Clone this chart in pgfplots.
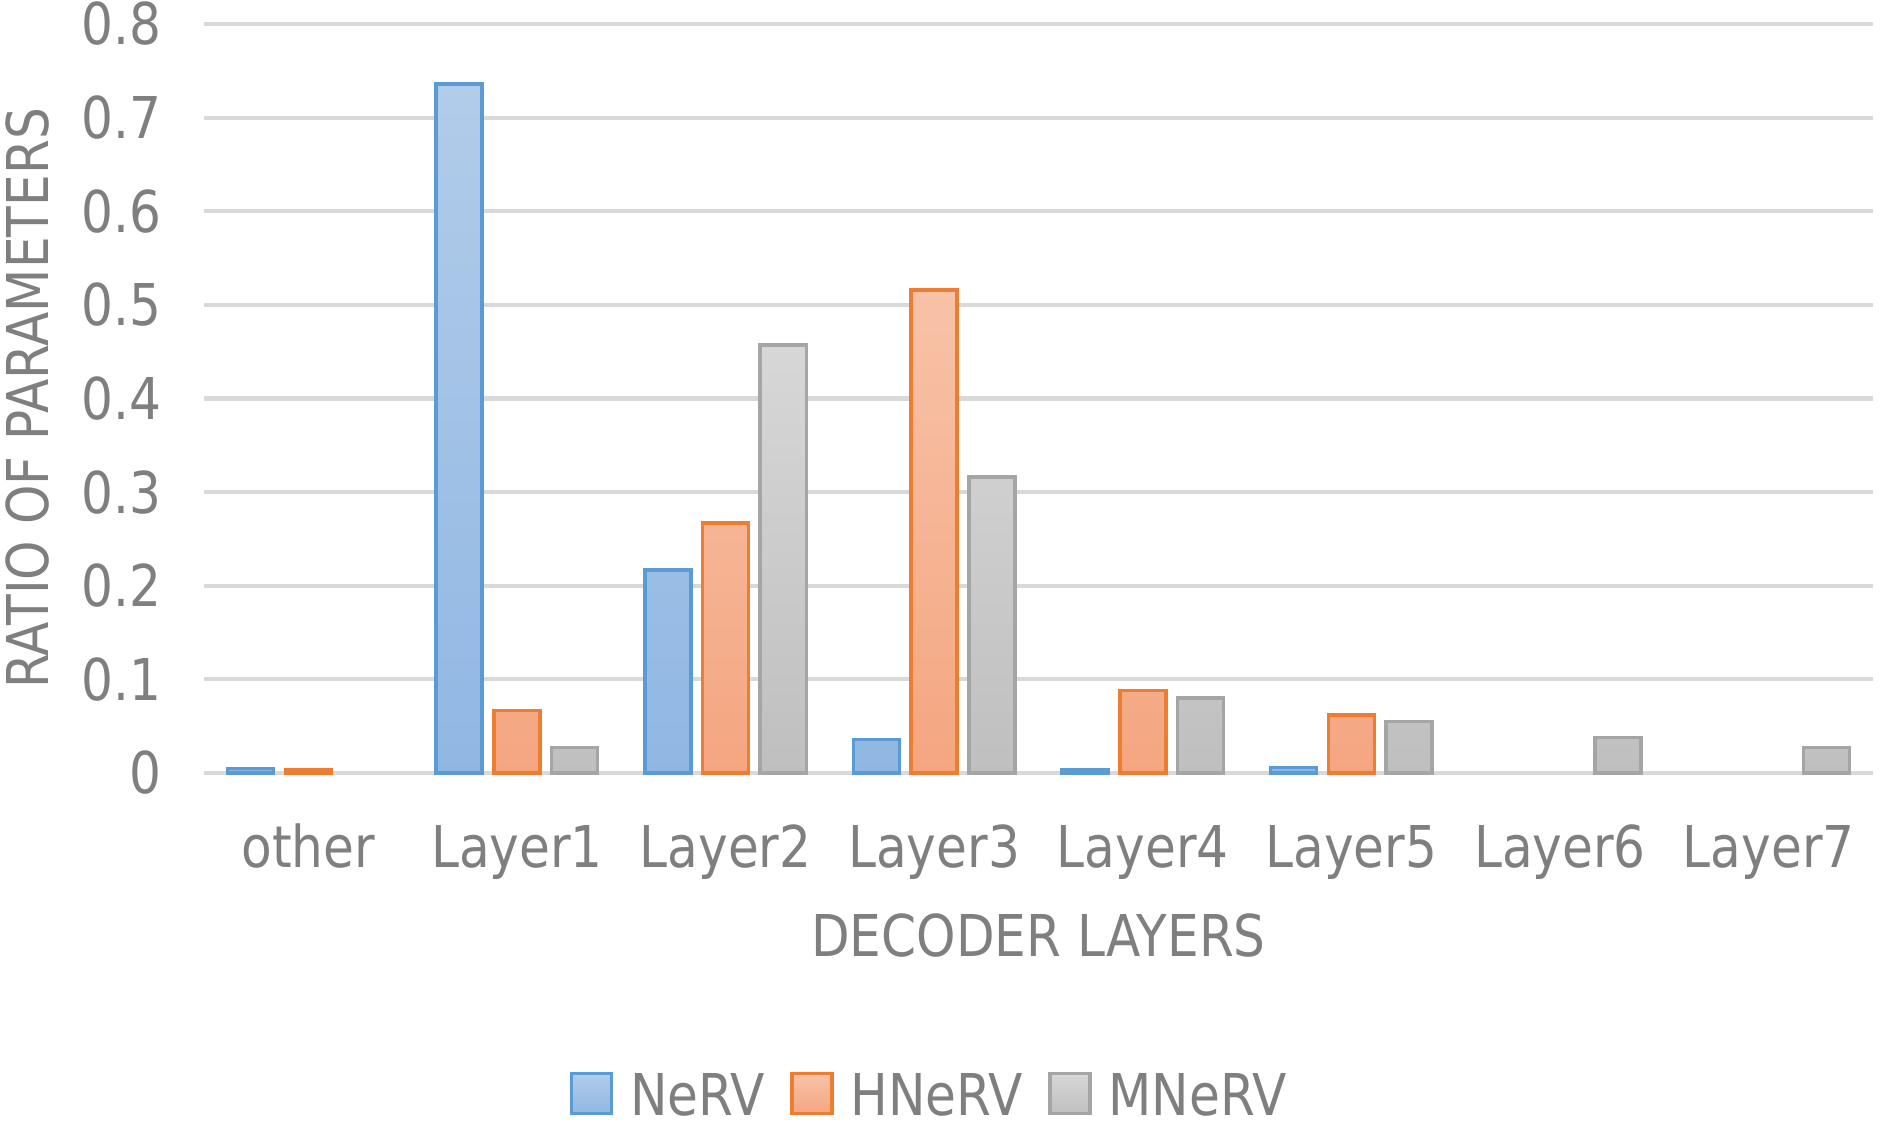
\documentclass[border=0pt]{standalone}
\usepackage{fontspec}
\setmainfont{DejaVu Sans}[FakeStretch=0.87]
\usepackage{pgfplots}
\pgfplotsset{compat=1.18}

\definecolor{txt}{HTML}{7F7F7F}
\definecolor{gridc}{HTML}{D9D9D9}
\definecolor{nervline}{HTML}{5B9BD5}
\definecolor{nervtop}{HTML}{B2CCEA}
\definecolor{nervbot}{HTML}{90B7E3}
\definecolor{hnervline}{HTML}{ED7D31}
\definecolor{hnervtop}{HTML}{F8C2A8}
\definecolor{hnervbot}{HTML}{F4A680}
\definecolor{mnervline}{HTML}{A5A5A5}
\definecolor{mnervtop}{HTML}{D7D7D7}
\definecolor{mnervbot}{HTML}{BFBFBF}

\newcommand{\chartfont}{\fontsize{16.4}{19}\selectfont}

\begin{document}
\begin{tikzpicture}
\useasboundingbox (0,0) rectangle (18.85,11.28);
\begin{axis}[
  at={(2.04cm,3.55cm)}, anchor=south west,
  scale only axis, width=16.69cm, height=7.49cm,
  ybar=0.117cm, bar width=0.46cm,
  xmin=-0.5, xmax=7.5, ymin=0, ymax=0.8,
  xtick={0,1,2,3,4,5,6,7},
  xticklabels={other,Layer1,Layer2,Layer3,Layer4,Layer5,Layer6,Layer7},
  ytick={0,0.1,0.2,0.3,0.4,0.5,0.6,0.7,0.8},
  ymajorgrids, grid style={draw=gridc, line width=1.2pt},
  axis line style={draw=none},
  major tick length=0pt, tick style={draw=none},
  clip=false,
  tick label style={font=\chartfont, text=txt},
  yticklabel style={inner sep=0pt, anchor=east, xshift=-0.42cm,
    /pgf/number format/.cd, fixed, precision=1, assume math mode=true},
  xticklabel style={inner sep=0pt, anchor=base, yshift=-0.94cm},
  xlabel={DECODER LAYERS},
  ylabel={RATIO OF PARAMETERS},
  every axis x label/.style={at={(axis description cs:0.5,0)}, anchor=base,
    yshift=-1.83cm, inner sep=0pt, font=\chartfont, text=txt},
  every axis y label/.style={at={(axis description cs:0,0.5)}, rotate=90,
    anchor=center, yshift=1.76cm, inner sep=0pt, font=\chartfont, text=txt},
  legend columns=3,
  legend cell align=left,
  legend style={at={(axis description cs:0.436,0)}, anchor=south, yshift=-3.55cm,
    draw=none, fill=none, inner sep=0pt, font=\chartfont, text=txt,
    /tikz/every odd column/.append style={column sep=0.1cm},
    /tikz/every even column/.append style={column sep=0.18cm}},
  legend image code/.code={\draw[#1, /pgfplots/bar shift=0pt] (0cm,-0.17cm) rectangle (0.4cm,0.23cm);},
]
\addplot[draw=nervline, line width=1pt, top color=nervtop, bottom color=nervbot]
  coordinates {(0,0.005)(1,0.736)(2,0.217)(3,0.036)(4,0.003)(5,0.006)};
\addplot[draw=hnervline, line width=1pt, top color=hnervtop, bottom color=hnervbot]
  coordinates {(0,0.004)(1,0.067)(2,0.267)(3,0.516)(4,0.088)(5,0.062)};
\addplot[draw=mnervline, line width=1pt, top color=mnervtop, bottom color=mnervbot]
  coordinates {(1,0.027)(2,0.457)(3,0.316)(4,0.080)(5,0.055)(6,0.038)(7,0.027)};
\legend{NeRV,HNeRV,MNeRV}
\end{axis}
\end{tikzpicture}
\end{document}
